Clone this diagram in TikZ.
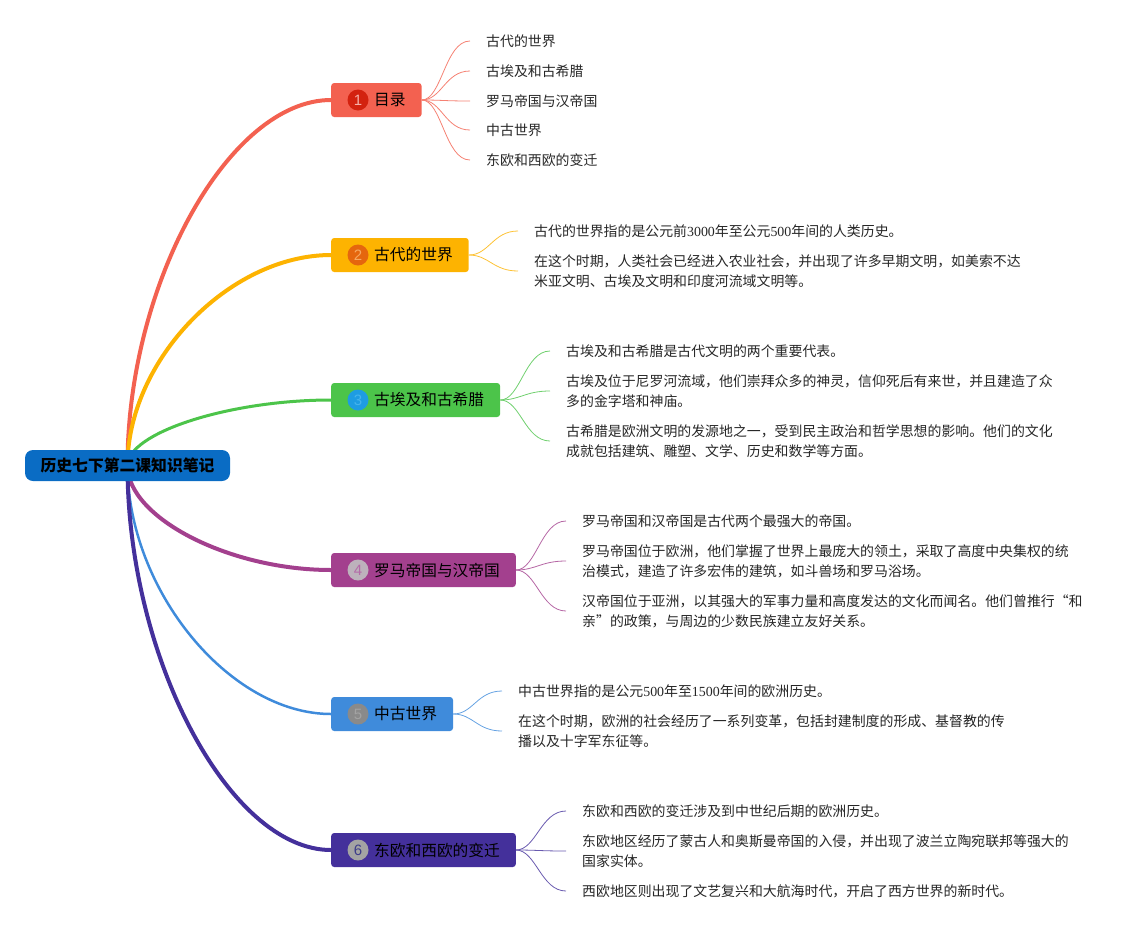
\documentclass[tikz,border=0pt]{standalone}
\usepackage{fontspec}
\setmainfont{Noto Sans CJK SC}
\newfontfamily\lat{Liberation Serif}
\newfontfamily\numf{Liberation Sans}
\usetikzlibrary{backgrounds,calc}
\definecolor{rootc}{HTML}{0A6CC4}
\definecolor{c1}{HTML}{F36150}\definecolor{c1d}{HTML}{D3220F}\definecolor{c1n}{HTML}{F6B0A8}
\definecolor{c2}{HTML}{FDB301}\definecolor{c2d}{HTML}{E5660E}\definecolor{c2n}{HTML}{F7A860}
\definecolor{c3}{HTML}{4CC44A}\definecolor{c3d}{HTML}{1E9CE2}\definecolor{c3n}{HTML}{46B4EC}
\definecolor{c4}{HTML}{A3408E}\definecolor{c4d}{HTML}{BDB2BC}\definecolor{c4n}{HTML}{B46BA8}
\definecolor{c5}{HTML}{3F8BDB}\definecolor{c5d}{HTML}{8A8A8A}\definecolor{c5n}{HTML}{A3A3A3}
\definecolor{c6}{HTML}{44309B}\definecolor{c6d}{HTML}{A3A3A3}\definecolor{c6n}{HTML}{3E3D8A}
\begin{document}
\begin{tikzpicture}[x=1pt,y=-1pt,
  rootbox/.style={rounded corners=8pt, fill=rootc, minimum width=205pt, minimum height=31pt, inner sep=0pt,
    font=\fontsize{15.8}{18}\selectfont\bfseries, text=black},
  branchbox/.style={anchor=west, rounded corners=3pt, minimum height=34pt, inner ysep=0pt, inner xsep=16pt,
    font=\fontsize{15.7}{18}\selectfont, text=black},
  numdot/.style={circle, minimum size=21pt, inner sep=0pt, font=\numf\fontsize{15}{15}\selectfont},
  leaf/.style={anchor=west, inner sep=0pt, align=left, font=\fontsize{13.9}{20}\selectfont, text=black!85},
  trunk/.style={line width=#1, line cap=round},
  twig/.style={line width=0.8pt}
]
\useasboundingbox (0,0) rectangle (1141,930);

% root
\node[rootbox] (root) at (127.5,465.5) {历史七下第二课知识笔记};

% branch nodes
\node[branchbox, fill=c1] (b1) at (331,100) {\hspace*{27pt}目录};
\node[branchbox, fill=c2] (b2) at (331,255) {\hspace*{27pt}古代的世界};
\node[branchbox, fill=c3] (b3) at (331,400) {\hspace*{27pt}古埃及和古希腊};
\node[branchbox, fill=c4] (b4) at (331,570) {\hspace*{27pt}罗马帝国与汉帝国};
\node[branchbox, fill=c5] (b5) at (331,714) {\hspace*{27pt}中古世界};
\node[branchbox, fill=c6] (b6) at (331,850) {\hspace*{27pt}东欧和西欧的变迁};

\node[numdot, fill=c1d, text=c1n] (n1) at ([xshift=27pt]b1.west) {1};
\node[numdot, fill=c2d, text=c2n] (n2) at ([xshift=27pt]b2.west) {2};
\node[numdot, fill=c3d, text=c3n] (n3) at ([xshift=27pt]b3.west) {3};
\node[numdot, fill=c4d, text=c4n] (n4) at ([xshift=27pt]b4.west) {4};
\node[numdot, fill=c5d, text=c5n] (n5) at ([xshift=27pt]b5.west) {5};
\node[numdot, fill=c6d, text=c6n] (n6) at ([xshift=27pt]b6.west) {6};

% leaves
\node[leaf] (l11) at (486,41) {古代的世界};
\node[leaf] (l12) at (486,71) {古埃及和古希腊};
\node[leaf] (l13) at (486,101) {罗马帝国与汉帝国};
\node[leaf] (l14) at (486,130) {中古世界};
\node[leaf] (l15) at (486,160) {东欧和西欧的变迁};

\node[leaf] (l21) at (534,231) {古代的世界指的是公元前{\lat 3000}年至公元{\lat 500}年间的人类历史。};
\node[leaf] (l22) at (534,271) {在这个时期，人类社会已经进入农业社会，并出现了许多早期文明，如美索不达\\米亚文明、古埃及文明和印度河流域文明等。};

\node[leaf] (l31) at (566,351) {古埃及和古希腊是古代文明的两个重要代表。};
\node[leaf] (l32) at (566,391) {古埃及位于尼罗河流域，他们崇拜众多的神灵，信仰死后有来世，并且建造了众\\多的金字塔和神庙。};
\node[leaf] (l33) at (566,441) {古希腊是欧洲文明的发源地之一，受到民主政治和哲学思想的影响。他们的文化\\成就包括建筑、雕塑、文学、历史和数学等方面。};

\node[leaf] (l41) at (582,521) {罗马帝国和汉帝国是古代两个最强大的帝国。};
\node[leaf] (l42) at (582,561) {罗马帝国位于欧洲，他们掌握了世界上最庞大的领土，采取了高度中央集权的统\\治模式，建造了许多宏伟的建筑，如斗兽场和罗马浴场。};
\node[leaf] (l43) at (582,611) {汉帝国位于亚洲，以其强大的军事力量和高度发达的文化而闻名。他们曾推行“和\\亲”的政策，与周边的少数民族建立友好关系。};

\node[leaf] (l51) at (518,691) {中古世界指的是公元{\lat 500}年至{\lat 1500}年间的欧洲历史。};
\node[leaf] (l52) at (518,731) {在这个时期，欧洲的社会经历了一系列变革，包括封建制度的形成、基督教的传\\播以及十字军东征等。};

\node[leaf] (l61) at (582,811) {东欧和西欧的变迁涉及到中世纪后期的欧洲历史。};
\node[leaf] (l62) at (582,851) {东欧地区经历了蒙古人和奥斯曼帝国的入侵，并出现了波兰立陶宛联邦等强大的\\国家实体。};
\node[leaf] (l63) at (582,891) {西欧地区则出现了文艺复兴和大航海时代，开启了西方世界的新时代。};

\begin{scope}[on background layer]
% trunks
\foreach \b/\c/\w in {b1/c1/4pt, b2/c2/4pt, b3/c3/3pt, b4/c4/4pt, b5/c5/2.5pt, b6/c6/4pt}
  \draw[\c, trunk=\w] (root.center)
    .. controls ($(root.center)!0.5!(root.center|-\b.west)$) and ($(\b.west)!0.5!(root.center|-\b.west)$)
    .. (\b.west);

% twigs
\foreach \l in {l11,l12,l13,l14,l15}
  \draw[c1!80, twig] (b1.east) .. controls +(20,0) and +(-25,0) .. ([xshift=-16pt]\l.west);
\foreach \l in {l21,l22}
  \draw[c2!80, twig] (b2.east) .. controls +(20,0) and +(-25,0) .. ([xshift=-16pt]\l.west);
\foreach \l in {l31,l32,l33}
  \draw[c3!80, twig] (b3.east) .. controls +(20,0) and +(-25,0) .. ([xshift=-16pt]\l.west);
\foreach \l in {l41,l42,l43}
  \draw[c4!80, twig] (b4.east) .. controls +(20,0) and +(-25,0) .. ([xshift=-16pt]\l.west);
\foreach \l in {l51,l52}
  \draw[c5!80, twig] (b5.east) .. controls +(20,0) and +(-25,0) .. ([xshift=-16pt]\l.west);
\foreach \l in {l61,l62,l63}
  \draw[c6!80, twig] (b6.east) .. controls +(20,0) and +(-25,0) .. ([xshift=-16pt]\l.west);
\end{scope}
\end{tikzpicture}
\end{document}
